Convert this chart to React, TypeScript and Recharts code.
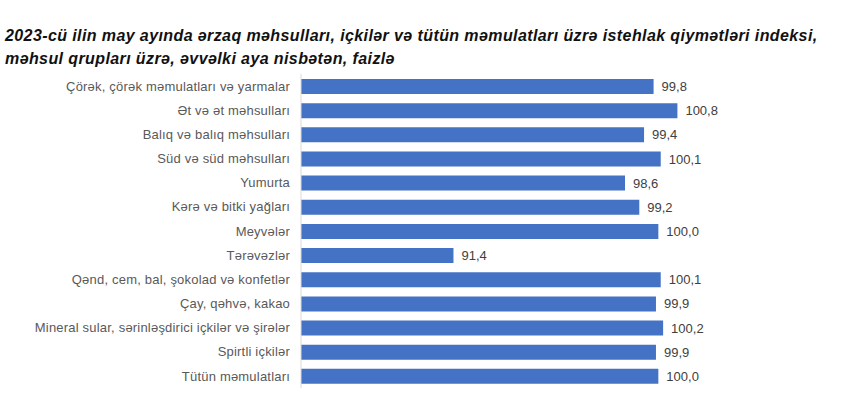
import { BarChart, Bar, XAxis, YAxis, LabelList } from "recharts";

const categories = [
  "Çörək, çörək məmulatları və yarmalar",
  "Ət və ət məhsulları",
  "Balıq və balıq məhsulları",
  "Süd və süd məhsulları",
  "Yumurta",
  "Kərə və bitki yağları",
  "Meyvələr",
  "Tərəvəzlər",
  "Qənd, cem, bal, şokolad və konfetlər",
  "Çay, qəhvə, kakao",
  "Mineral sular, sərinləşdirici içkilər və şirələr",
  "Spirtli içkilər",
  "Tütün məmulatları",
];

const values = [99.8, 100.8, 99.4, 100.1, 98.6, 99.2, 100.0, 91.4, 100.1, 99.9, 100.2, 99.9, 100.0];

const data = categories.map((name, i) => ({ name, value: values[i] }));

const fmt = (v: number) => v.toFixed(1).replace(".", ",");

export default function App() {
  return (
    <div style={{ position: "absolute", left: 0, top: 0, width: 848, height: 397, background: "#fff", fontFamily: "Arial, 'Liberation Sans', sans-serif" }}>
      <div
        style={{
          position: "absolute",
          left: 5,
          top: 24,
          fontSize: 16,
          letterSpacing: 0.4,
          lineHeight: "23px",
          fontWeight: "bold",
          fontStyle: "italic",
          color: "#111",
          whiteSpace: "nowrap",
        }}
      >
        2023-cü ilin may ayında ərzaq məhsulları, içkilər və tütün məmulatları üzrə istehlak qiymətləri indeksi,
        <br />
        məhsul qrupları üzrə, əvvəlki aya nisbətən, faizlə
      </div>
      <BarChart
        width={848}
        height={397}
        data={data}
        layout="vertical"
        margin={{ top: 74, right: 142, bottom: 9, left: 0 }}
        style={{ position: "absolute", left: 0, top: 0 }}
      >
        <XAxis type="number" domain={[85, 102]} hide />
        <YAxis
          type="category"
          dataKey="name"
          width={301}
          tickLine={false}
          tickMargin={5}
          axisLine={{ stroke: "#d9d9d9" }}
          tick={{ fill: "#595959", fontSize: 13, letterSpacing: 0.2 }}
          interval={0}
        />
        <Bar dataKey="value" fill="#4472C4" barSize={15} isAnimationActive={false}>
          <LabelList dataKey="value" position="right" offset={8} formatter={(v: any) => fmt(Number(v))} fill="#404040" fontSize={13} />
        </Bar>
      </BarChart>
    </div>
  );
}
